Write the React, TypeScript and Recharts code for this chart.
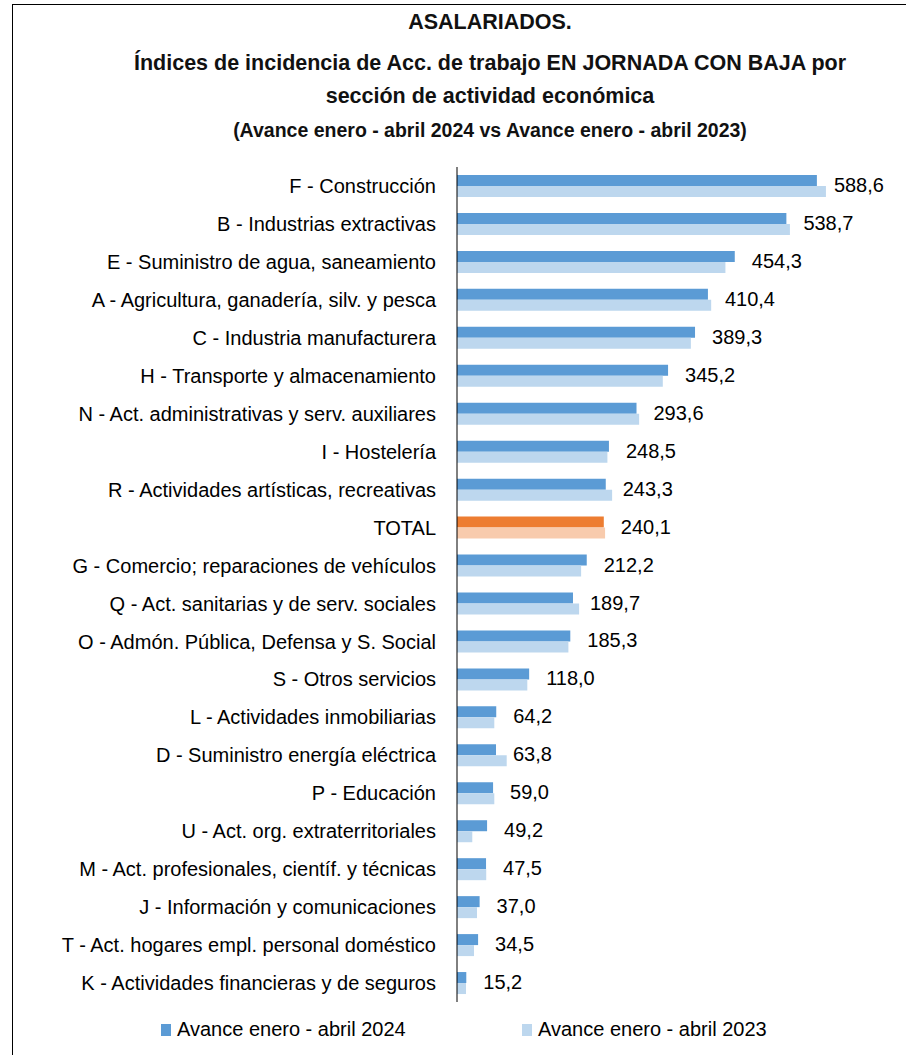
import { BarChart, Bar, XAxis, YAxis, Cell, LabelList, Legend } from "recharts"

const categories = [
  "F - Construcción",
  "B - Industrias extractivas",
  "E - Suministro de agua, saneamiento",
  "A - Agricultura, ganadería, silv. y pesca",
  "C - Industria manufacturera",
  "H - Transporte y almacenamiento",
  "N - Act. administrativas y serv. auxiliares",
  "I - Hostelería",
  "R - Actividades artísticas, recreativas",
  "TOTAL",
  "G - Comercio; reparaciones de vehículos",
  "Q - Act. sanitarias y de serv. sociales",
  "O - Admón. Pública, Defensa y S. Social",
  "S - Otros servicios",
  "L - Actividades inmobiliarias",
  "D - Suministro energía eléctrica",
  "P - Educación",
  "U - Act. org. extraterritoriales",
  "M - Act. profesionales, científ. y técnicas",
  "J - Información y comunicaciones",
  "T - Act. hogares empl. personal doméstico",
  "K - Actividades financieras y de seguros",
]

const values2024 = [
  588.6, 538.7, 454.3, 410.4, 389.3, 345.2, 293.6, 248.5, 243.3, 240.1, 212.2,
  189.7, 185.3, 118.0, 64.2, 63.8, 59.0, 49.2, 47.5, 37.0, 34.5, 15.2,
]

const values2023 = [
  603.4, 544.5, 439.0, 415.7, 382.5, 336.6, 297.9, 246.0, 253.7, 242.2, 203.0,
  199.7, 182.2, 115.0, 61.0, 81.3, 61.0, 25.0, 47.8, 32.7, 27.8, 14.7,
]

const seriesNames = ["Avance enero - abril 2024", "Avance enero - abril 2023"]

const titleLines = [
  "ASALARIADOS.",
  "Índices de incidencia de Acc. de trabajo EN JORNADA CON BAJA por",
  "sección de actividad económica",
  "(Avance enero - abril 2024 vs Avance enero - abril 2023)",
]

const COLOR_2024 = "#5B9BD5"
const COLOR_2023 = "#BDD7EE"
const TOTAL_2024 = "#ED7D31"
const TOTAL_2023 = "#F8CBAD"
const FONT = "'Liberation Sans', Arial, sans-serif"

const data = categories.map((name, i) => ({
  name,
  y2024: values2024[i],
  y2023: values2023[i],
}))

const fmt = (v: number) => v.toFixed(1).replace(".", ",")

// label sits to the right of the 2024 bar, centred on the row
const ValueLabel = (props: any) => {
  const { x, y, width, height, value } = props
  return (
    <text
      x={x + width + 17}
      y={y + height - 1}
      dominantBaseline="central"
      fontSize={20}
      fill="#000"
    >
      {fmt(value)}
    </text>
  )
}

const LegendContent = () => (
  <div style={{ position: "relative", height: 44, fontFamily: FONT, fontSize: 20, color: "#000" }}>
    {seriesNames.map((n, i) => (
      <div
        key={n}
        style={{ position: "absolute", left: i === 0 ? 161 : 522, top: 16, display: "flex", alignItems: "center" }}
      >
        <span
          style={{
            display: "inline-block",
            width: 10,
            height: 12,
            background: i === 0 ? COLOR_2024 : COLOR_2023,
            marginRight: 6,
          }}
        />
        <span>{n}</span>
      </div>
    ))}
  </div>
)

export default function App() {
  return (
    <div
      style={{
        position: "fixed",
        left: 0,
        top: 0,
        width: 906,
        height: 1055,
        overflow: "hidden",
        background: "#fff",
        fontFamily: FONT,
      }}
    >
      <div
        style={{
          position: "absolute",
          left: 12,
          top: 4,
          width: 1000,
          height: 1100,
          border: "1px solid #000",
        }}
      />
      {titleLines.map((t, i) => (
        <div
          key={i}
          style={{
            position: "absolute",
            left: 0,
            width: 980,
            top: [10, 51, 84, 118][i],
            lineHeight: "24px",
            textAlign: "center",
            fontWeight: "bold",
            fontSize: i === 3 ? 19.5 : 21.5,
            color: "#111",
            whiteSpace: "nowrap",
          }}
        >
          {t}
        </div>
      ))}
      <div style={{ position: "absolute", left: 0, top: 150 }}>
        <BarChart
          width={905}
          height={900}
          data={data}
          layout="vertical"
          margin={{ top: 17, right: 20, bottom: 4, left: 0 }}
          barGap={0}
          barSize={11}
        >
          <XAxis type="number" hide domain={[0, 700]} />
          <YAxis
            type="category"
            dataKey="name"
            width={457}
            interval={0}
            tickLine={false}
            tickSize={0}
            tickMargin={21}
            axisLine={{ stroke: "#000", strokeWidth: 1 }}
            tick={{ fontSize: 20, fill: "#000" }}
          />
          <Legend verticalAlign="bottom" content={<LegendContent />} wrapperStyle={{ left: 0, width: 905 }} />
          <Bar dataKey="y2024" name={seriesNames[0]} fill={COLOR_2024} isAnimationActive={false}>
            {data.map((d) => (
              <Cell key={d.name} fill={d.name === "TOTAL" ? TOTAL_2024 : COLOR_2024} />
            ))}
            <LabelList dataKey="y2024" content={<ValueLabel />} />
          </Bar>
          <Bar dataKey="y2023" name={seriesNames[1]} fill={COLOR_2023} isAnimationActive={false}>
            {data.map((d) => (
              <Cell key={d.name} fill={d.name === "TOTAL" ? TOTAL_2023 : COLOR_2023} />
            ))}
          </Bar>
        </BarChart>
      </div>
    </div>
  )
}
